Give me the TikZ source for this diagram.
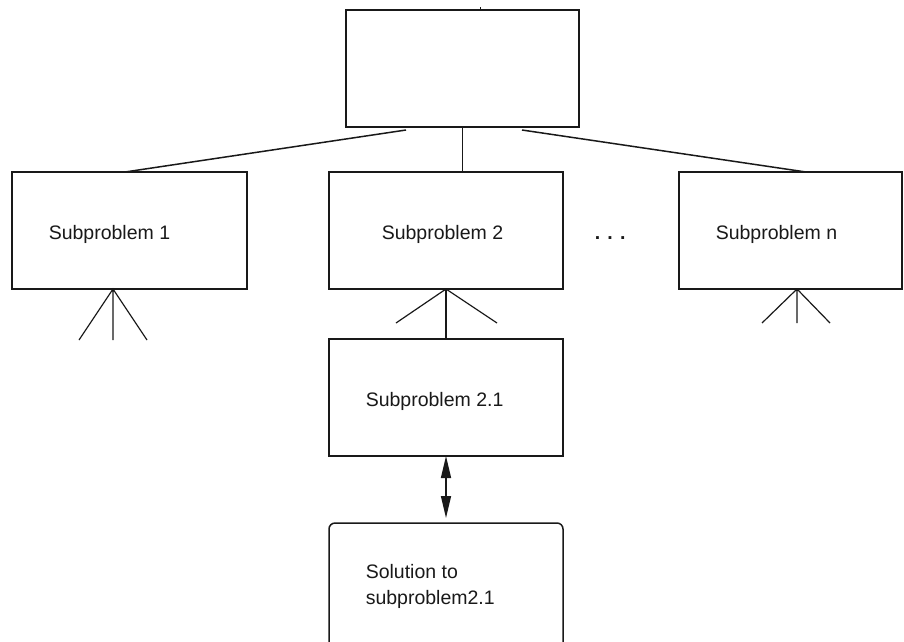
\documentclass[tikz,border=0pt]{standalone}
\usepackage{fontspec}
\setmainfont{Liberation Sans}
\usetikzlibrary{arrows.meta}
\begin{document}
\begin{tikzpicture}[x=1pt,y=-1pt,
  line width=1.5pt,
  color=black!90,
  box/.style={draw,rectangle,inner sep=0pt,outer sep=0pt,anchor=north west},
  lbl/.style={inner sep=0pt,anchor=base west,font=\fontsize{19.5}{23}\selectfont},
  leg/.style={line width=1.2pt}]
\useasboundingbox (0,0) rectangle (904,641);
\clip (0,0) rectangle (904,641);

% boxes
\node[box,minimum width=233pt,minimum height=117pt] (top) at (346,10) {};
\node[box,minimum width=235pt,minimum height=117pt] (sub1) at (12,172) {};
\node[box,minimum width=234pt,minimum height=117pt] (sub2) at (329,172) {};
\node[box,minimum width=223pt,minimum height=117pt] (subn) at (679,172) {};
\node[box,minimum width=234pt,minimum height=117pt] (sub21) at (329,339) {};
\node[box,minimum width=234pt,minimum height=130pt,rounded corners=6pt] (sol) at (329,523) {};

% labels
\node[lbl] (t1) at (48,239) {Subproblem 1};
\node[lbl] (t2) at (381,239) {Subproblem 2};
\node[lbl] (tn) at (715,239) {Subproblem n};
\node[lbl] (dots) at (594,239) {\textbf{. . .}};
\node[lbl] (t21) at (365,406) {Subproblem 2.1};
\node[lbl] (s1) at (365,578) {Solution to};
\node[lbl] (s2) at (365,604) {subproblem2.1};

% links from the top box
\coordinate (stub) at (480,7);
\draw[line width=1pt] (top.north -| stub) -- (stub);
\draw (top.south) -- (top.south |- sub2.north);
\coordinate (lstart) at (406,130);
\coordinate (rstart) at (522,130);
\coordinate (lend) at (125,172);
\coordinate (rend) at (806,172);
\draw (lstart) -- (lend);
\draw (rstart) -- (rend);

% fan of branches below subproblem 1
\coordinate (a1) at (113,289);
\coordinate (a1l) at (79,340);
\coordinate (a1m) at (113,340);
\coordinate (a1r) at (147,340);
\draw[leg] (a1l) -- (a1) -- (a1r) (a1) -- (a1m);

% branches below subproblem 2
\coordinate (a2l) at (396,323);
\coordinate (a2r) at (497,323);
\draw[leg] (a2l) -- (sub2.south) -- (a2r);
\draw[leg] (sub2.south) -- (sub21.north);

% branches below subproblem n
\coordinate (an) at (797,289);
\coordinate (anl) at (762,323);
\coordinate (anm) at (797,323);
\coordinate (anr) at (830,323);
\draw[leg] (anl) -- (an) -- (anr) (an) -- (anm);

% two-way link to the solution
\coordinate (arrend) at (446,518);
\draw[line width=1.5pt,{Triangle[length=22pt,width=10pt]}-{Triangle[length=22pt,width=10pt]}] (sub21.south) -- (arrend);
\end{tikzpicture}
\end{document}
